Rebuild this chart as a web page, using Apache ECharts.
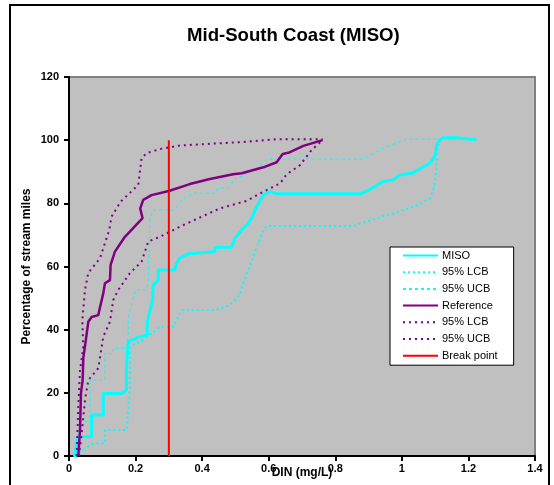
<!DOCTYPE html>
<html>
<head>
<meta charset="utf-8">
<script src="https://cdn.jsdelivr.net/npm/echarts@6/dist/echarts.min.js"></script>
<style>
html,body{margin:0;padding:0;background:#fff;}
#chart{width:554px;height:485px;}
</style>
</head>
<body>
<div id="chart"></div>
<script>
// ---- data (x = DIN mg/L, y = percentage of stream miles) ----
const titleText = "Mid-South Coast (MISO)";
const xTitle = "DIN (mg/L)";
const yTitle = "Percentage of stream miles";
const legendNames = ["MISO", "95% LCB", "95% UCB", "Reference", "95% LCB ", "95% UCB ", "Break point"];

const misoCurve = [[0.013,0],[0.02,0],[0.02,2],[0.025,4],[0.025,6.1],[0.068,6.1],[0.068,13],[0.103,13],[0.103,19.8],[0.16,19.8],[0.173,21.1],[0.173,28.3],[0.178,28.3],[0.178,36.2],[0.213,37.8],[0.235,38.3],[0.235,42.5],[0.251,49.4],[0.253,54.1],[0.268,55.7],[0.268,58.9],[0.318,58.9],[0.323,61],[0.333,62.6],[0.358,64],[0.438,64.7],[0.438,66.1],[0.489,66.1],[0.498,68.9],[0.519,71.6],[0.534,73.1],[0.549,75.3],[0.559,77.9],[0.572,80.5],[0.584,82.6],[0.604,83.7],[0.624,83],[0.876,83],[0.904,84.4],[0.944,86.9],[0.974,87.4],[0.994,89],[1.029,89.5],[1.049,90.6],[1.084,92.7],[1.096,94.3],[1.102,95.9],[1.104,98.5],[1.114,100],[1.124,100.8],[1.164,100.8],[1.204,100.3],[1.224,100.3]];

const misoLCB = [[0.02,0],[0.04,2],[0.073,4],[0.108,4],[0.108,8.2],[0.173,8.2],[0.183,20.9],[0.183,34.6],[0.213,36.2],[0.263,39.9],[0.273,40.9],[0.313,40.9],[0.333,45.2],[0.34,46.2],[0.438,46.2],[0.483,47.8],[0.514,51],[0.519,53.6],[0.538,58.9],[0.553,63.1],[0.569,67.4],[0.579,70.5],[0.592,72.8],[0.854,72.8],[0.894,74.2],[0.934,75.6],[0.964,76.5],[1.014,78.2],[1.049,79.5],[1.084,81.6],[1.094,84.2],[1.101,87.9],[1.104,91.1],[1.106,98],[1.12,100.5],[1.224,100.3]];

const misoUCB = [[0.013,0],[0.023,5],[0.033,9],[0.063,12.4],[0.063,24.1],[0.108,24.1],[0.108,32.5],[0.133,32.5],[0.133,34.1],[0.173,34.1],[0.178,38.9],[0.178,44.1],[0.183,46.2],[0.2,52.6],[0.233,52.6],[0.238,55],[0.243,74.7],[0.253,77.9],[0.318,77.9],[0.338,81.1],[0.373,83.2],[0.438,83.2],[0.448,84.8],[0.478,84.8],[0.504,88.4],[0.519,88.4],[0.569,91.6],[0.594,94],[0.879,94],[0.909,95.5],[0.944,97.4],[0.994,99.5],[1.014,100.3],[1.224,100.3]];

const refCurve = [[0.028,0],[0.033,8],[0.036,20],[0.041,24],[0.043,31],[0.051,37],[0.058,42.5],[0.068,44],[0.088,44.6],[0.093,47],[0.103,51.5],[0.108,54.7],[0.123,55.7],[0.125,60.5],[0.138,64.7],[0.168,69.4],[0.221,75.3],[0.214,78.4],[0.223,81.1],[0.248,82.6],[0.30,83.9],[0.363,86.1],[0.42,87.6],[0.493,89.2],[0.519,89.5],[0.584,91.4],[0.624,93.0],[0.642,95.6],[0.659,96.0],[0.704,98.2],[0.762,100]];

const refLCB = [[0.03,0],[0.038,7],[0.048,17.7],[0.058,24],[0.088,27.8],[0.103,37.8],[0.123,42.5],[0.133,49.4],[0.148,52.6],[0.183,57.9],[0.218,61.5],[0.238,67.9],[0.273,69.4],[0.333,72.6],[0.453,78.4],[0.534,80.8],[0.579,83.4],[0.634,86.3],[0.654,89.2],[0.694,92.1],[0.729,96.9],[0.762,100]];

const refUCB = [[0.023,0],[0.028,15.6],[0.033,27],[0.043,34.6],[0.040,43],[0.048,52.6],[0.058,58],[0.093,62.6],[0.108,67.4],[0.121,71.6],[0.128,75.8],[0.155,80.5],[0.208,85.8],[0.213,90],[0.218,94.3],[0.233,95.9],[0.273,97.2],[0.333,98.3],[0.534,99.5],[0.624,100.3],[0.762,100.3]];

const breakPoint = [[0.3,0],[0.3,100]];

const xMin = 0, xMax = 1.4, xStep = 0.2;
const yMin = 0, yMax = 120, yStep = 20;

// ---- chart ----
const FONT = "'Liberation Sans', Arial, sans-serif";
const chart = echarts.init(document.getElementById('chart'), null, {renderer: 'canvas'});

function lineSeries(name, data, color, width, type) {
  return {
    name: name, type: 'line', data: data, symbol: 'none', showSymbol: false,
    animation: false, silent: true,
    lineStyle: {color: color, width: width, type: type, cap: 'butt'},
    itemStyle: {color: color}
  };
}

chart.setOption({
  animation: false,
  backgroundColor: '#ffffff',
  title: {
    text: titleText, left: 182, top: 21,
    textStyle: {fontFamily: FONT, fontSize: 18.6, fontWeight: 'bold', color: '#000'}
  },
  graphic: [{
    type: 'rect', silent: true, z: 100,
    shape: {x: 10, y: 5, width: 539, height: 490},
    style: {fill: 'none', stroke: '#000', lineWidth: 2}
  }],
  grid: {
    left: 69, right: 19, top: 77, bottom: 29,
    outerBoundsMode: 'none', containLabel: false,
    show: true, backgroundColor: '#C0C0C0', borderColor: '#808080', borderWidth: 2
  },
  legend: {
    show: true, data: legendNames, orient: 'vertical',
    left: 390, top: 247,
    padding: [3, 16, 4, 12],
    itemWidth: 35, itemHeight: 12, itemGap: 5.7,
    backgroundColor: '#ffffff', borderColor: '#000', borderWidth: 1, borderRadius: 0,
    selectedMode: false,
    itemStyle: {opacity: 0},
    textStyle: {fontFamily: FONT, fontSize: 11, color: '#000', padding: [0, 0, 0, -1]}
  },
  xAxis: {
    type: 'value', min: xMin, max: xMax, interval: xStep,
    name: xTitle, nameLocation: 'middle', nameGap: 11, nameMoveOverlap: false,
    nameTextStyle: {fontFamily: FONT, fontSize: 12, fontWeight: 'bold', color: '#000'},
    axisLine: {show: true, onZero: false, lineStyle: {color: '#000', width: 2}},
    axisTick: {show: true, length: 5, lineStyle: {color: '#000', width: 2}},
    axisLabel: {fontFamily: FONT, fontSize: 11, fontWeight: 'bold', color: '#000', margin: 7},
    splitLine: {show: false}
  },
  yAxis: {
    type: 'value', min: yMin, max: yMax, interval: yStep,
    name: yTitle, nameLocation: 'middle', nameGap: 36, nameRotate: 90, nameMoveOverlap: false,
    nameTextStyle: {fontFamily: FONT, fontSize: 12, fontWeight: 'bold', color: '#000'},
    axisLine: {show: true, onZero: false, lineStyle: {color: '#000', width: 2}},
    axisTick: {show: true, length: 5, lineStyle: {color: '#000', width: 2}},
    axisLabel: {fontFamily: FONT, fontSize: 11, fontWeight: 'bold', color: '#000', margin: 10},
    splitLine: {show: false}
  },
  series: [
    lineSeries(legendNames[0], misoCurve, '#00FFFF', 3, 'solid'),
    lineSeries(legendNames[1], misoLCB, '#00FFFF', 2, [2, 3]),
    lineSeries(legendNames[2], misoUCB, '#00FFFF', 1, [3, 3]),
    lineSeries(legendNames[3], refCurve, '#800080', 2.5, 'solid'),
    lineSeries(legendNames[4], refLCB, '#800080', 2, [2, 4]),
    lineSeries(legendNames[5], refUCB, '#800080', 2, [2, 4]),
    lineSeries(legendNames[6], breakPoint, '#FF0000', 2, 'solid')
  ]
});
</script>
</body>
</html>
